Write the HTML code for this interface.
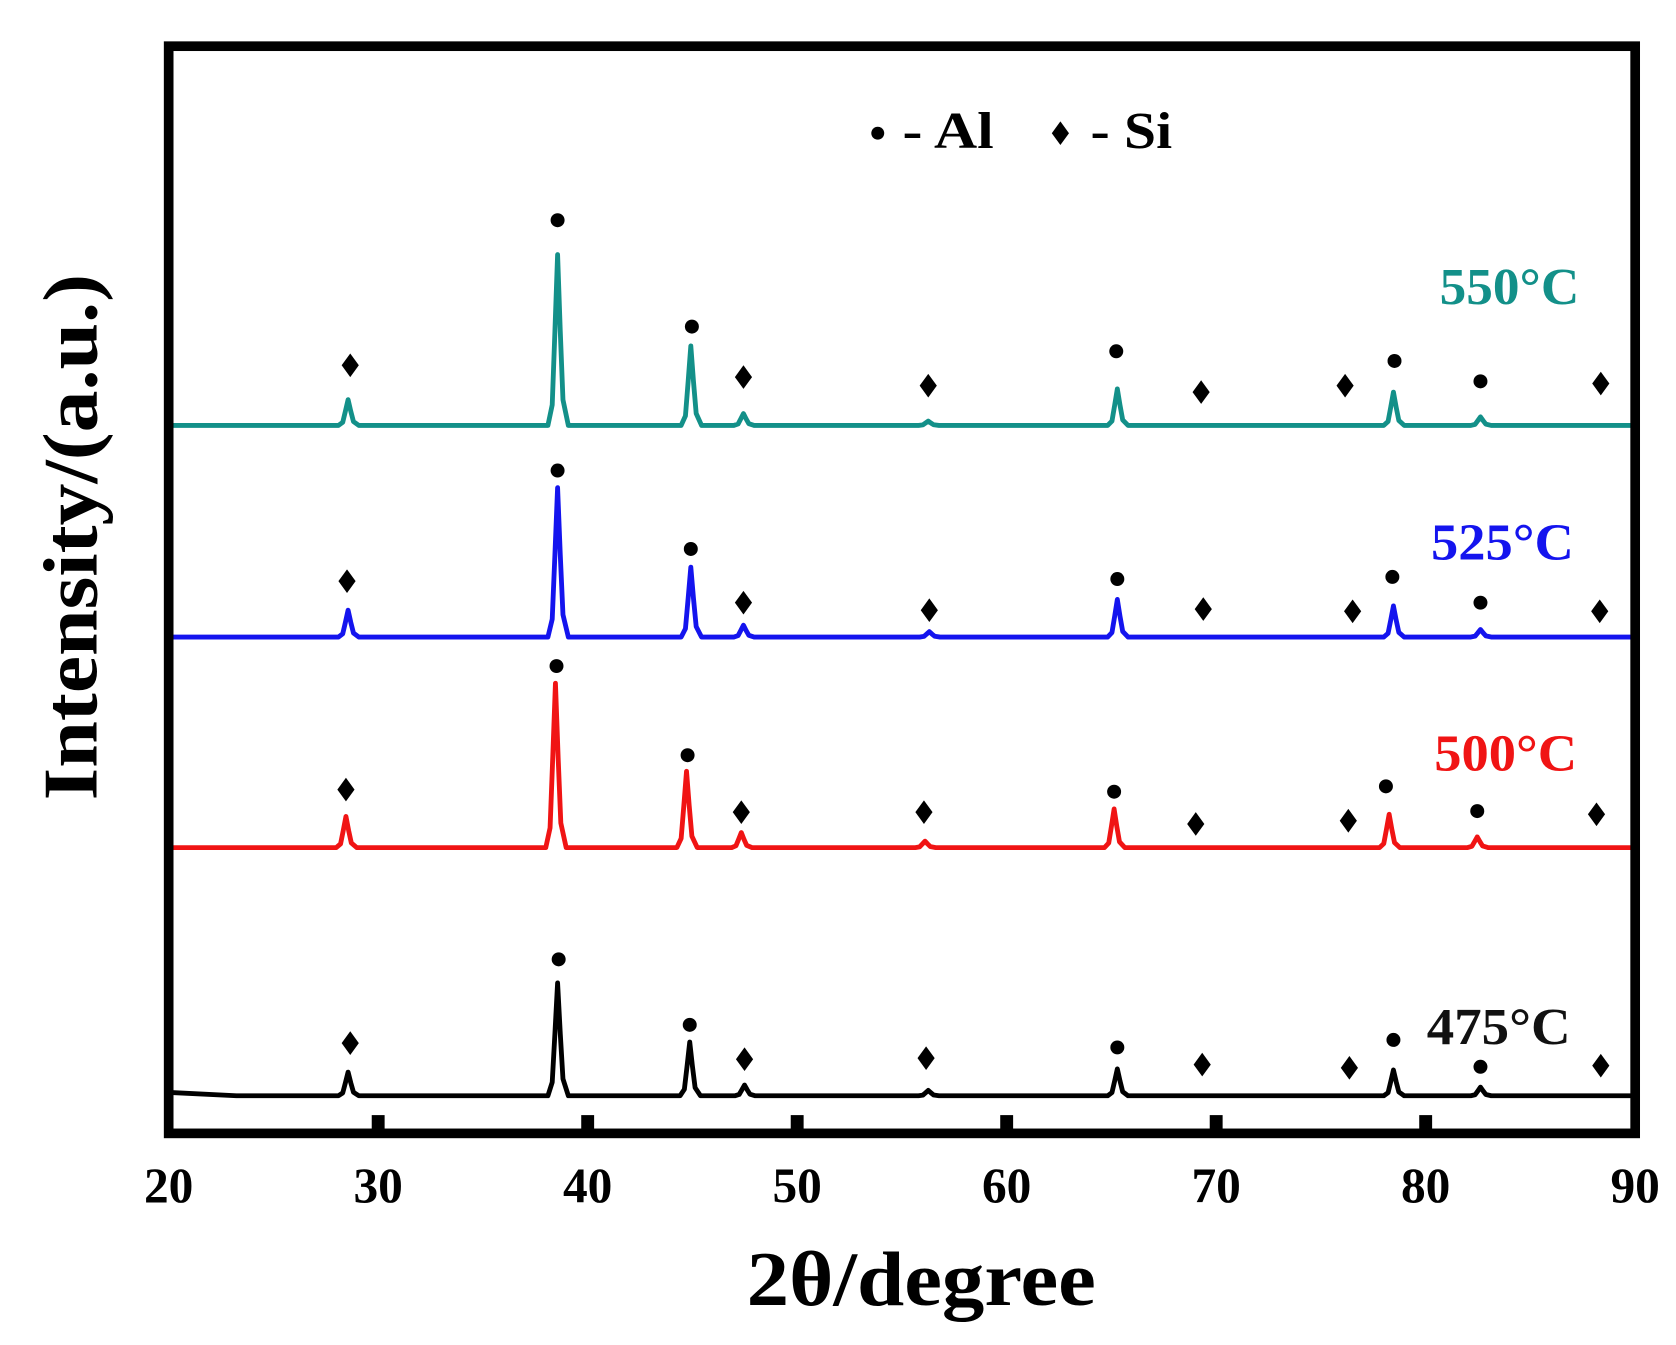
<!DOCTYPE html>
<html><head><meta charset="utf-8"><style>html,body{margin:0;padding:0;background:#fff}svg{display:block}</style></head>
<body>
<svg id="s" width="1676" height="1345" viewBox="0 0 1560 1252" preserveAspectRatio="none" xmlns="http://www.w3.org/2000/svg" font-family="Liberation Serif, serif" font-weight="bold">
<rect x="0" y="0" width="1560" height="1252" fill="#fff"/>
<g id="plots"></g>
<rect x="157" y="43" width="1365" height="1012" fill="none" stroke="#000" stroke-width="9"/>
<g fill="#000">
<rect x="346" y="1038" width="12" height="14"/><rect x="541" y="1038" width="12" height="14"/><rect x="736" y="1038" width="12" height="14"/><rect x="931" y="1038" width="12" height="14"/><rect x="1126" y="1038" width="12" height="14"/><rect x="1321" y="1038" width="12" height="14"/>
</g>
<g font-size="46" text-anchor="middle" fill="#000">
<text x="157" y="1119">20</text><text x="352" y="1119">30</text><text x="547" y="1119">40</text><text x="742" y="1119">50</text><text x="937" y="1119">60</text><text x="1132" y="1119">70</text><text x="1327" y="1119">80</text><text x="1522" y="1119">90</text>
</g>
<text x="695" y="1215" font-size="72" textLength="325" lengthAdjust="spacingAndGlyphs">2θ/degree</text>
<text transform="translate(90,745) rotate(-90)" font-size="72" textLength="490" lengthAdjust="spacingAndGlyphs">Intensity/(a.u.)</text>
<circle cx="817" cy="124" r="6" fill="#000"/><text x="840" y="138" font-size="48" textLength="85" lengthAdjust="spacingAndGlyphs">- Al</text>
<path d="M987 113 L995 124 L987 135 L979 124Z" fill="#000"/><text x="1015" y="138" font-size="48" textLength="76" lengthAdjust="spacingAndGlyphs">- Si</text>
<text x="1340" y="283" font-size="48" fill="#139089" textLength="130" lengthAdjust="spacingAndGlyphs">550°C</text>
<text x="1332" y="521" font-size="48" fill="#1414ee" textLength="133" lengthAdjust="spacingAndGlyphs">525°C</text>
<text x="1335" y="717" font-size="48" fill="#f01414" textLength="133" lengthAdjust="spacingAndGlyphs">500°C</text>
<text x="1328" y="972" font-size="48" fill="#111" textLength="134" lengthAdjust="spacingAndGlyphs">475°C</text>
</svg>
<script>
var g=document.getElementById('plots');var NS='http://www.w3.org/2000/svg';
var S=[
{c:'#139089',b:396,p:[[324,372],[519,237],[643,322],[692,385],[864,392],[1040,362],[1297,365],[1378,388]],
m:[['D',326,340],['C',519,205],['C',644,304],['D',692,351],['D',864,359],['C',1039,327],['D',1118,365],['D',1252,359],['C',1298,336],['C',1378,355],['D',1490,357]]},
{c:'#1414ee',b:593,p:[[324,568],[519,454],[643,528],[692,582],[865,588],[1040,558],[1297,564],[1378,586]],
m:[['D',323,541],['C',519,438],['C',643,511],['D',692,561],['D',865,568],['C',1040,539],['D',1120,567],['D',1259,569],['C',1296,537],['C',1378,561],['D',1489,569]]},
{c:'#f01414',b:789,p:[[322,760],[517,636],[639,718],[690,775],[861,783],[1037,753],[1293,758],[1375,779]],
m:[['D',322,735],['C',518,620],['C',640,703],['D',690,756],['D',860,756],['C',1037,737],['D',1113,767],['D',1255,764],['C',1290,732],['C',1375,755],['D',1486,758]]},
{c:'#000',b:1020,p:[[324,998],[519,915],[642,970],[693,1010],[864,1015],[1040,995],[1297,996],[1378,1012]],
m:[['D',326,971],['C',520,893],['C',642,954],['D',693,986],['D',862,985],['C',1040,975],['D',1119,991],['D',1256,994],['C',1297,968],['C',1378,993],['D',1490,992]]}
];
S.forEach(function(s){
 var b=s.b,d='M160 '+(s.c=='#000'?b-3:b)+' L220 '+b+' L300 '+b;
 s.p.forEach(function(q){var x=q[0],t=q[1],h=b-t;
  d+=' L'+(x-9)+' '+b+' L'+(x-5)+' '+(b-h*0.12)+' L'+(x-2.5)+' '+(b-h*0.55)+' L'+x+' '+t+' L'+(x+2.5)+' '+(b-h*0.55)+' L'+(x+5)+' '+(b-h*0.15)+' L'+(x+10)+' '+b;});
 d+=' L1520 '+b;
 var p=document.createElementNS(NS,'path');p.setAttribute('d',d);p.setAttribute('fill','none');p.setAttribute('stroke',s.c);p.setAttribute('stroke-width','4.5');p.setAttribute('stroke-linejoin','round');g.appendChild(p);
 s.m.forEach(function(m){var e;
  if(m[0]=='C'){e=document.createElementNS(NS,'circle');e.setAttribute('cx',m[1]);e.setAttribute('cy',m[2]);e.setAttribute('r','6.5');}
  else{e=document.createElementNS(NS,'path');var x=m[1],y=m[2];e.setAttribute('d','M'+x+' '+(y-11)+' L'+(x+8)+' '+y+' L'+x+' '+(y+11)+' L'+(x-8)+' '+y+'Z');}
  e.setAttribute('fill','#000');g.appendChild(e);});
});
</script>
</body></html>
